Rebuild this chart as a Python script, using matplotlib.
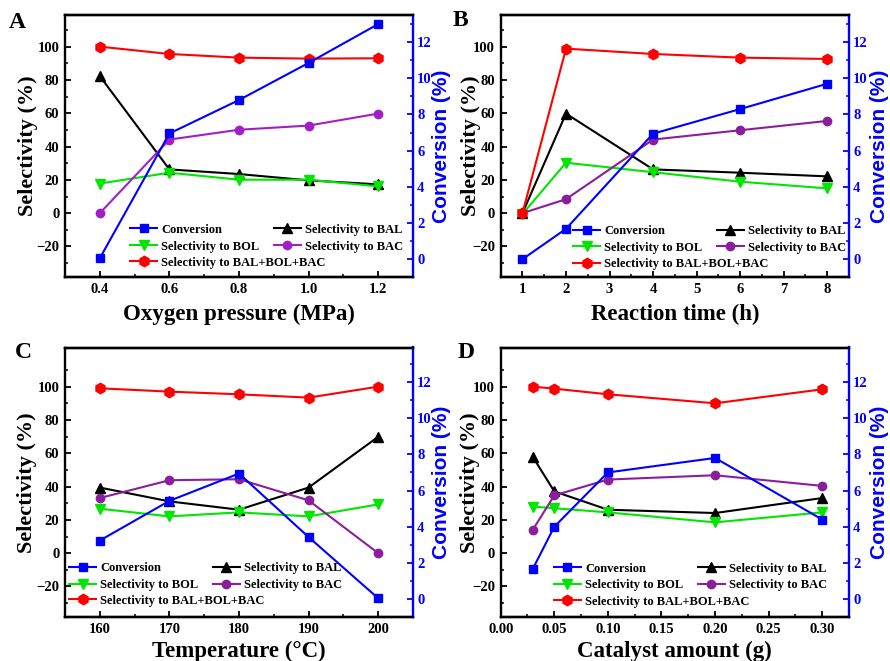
import matplotlib
matplotlib.use('Agg')
import matplotlib.pyplot as plt
from matplotlib.ticker import MultipleLocator, FixedLocator, FormatStrFormatter

# ---------------- data ----------------
# Panel A: oxygen pressure
a_x = [0.4, 0.6, 0.8, 1.0, 1.2]
a_conv = [0.05, 6.95, 8.8, 10.85, 13.0]
a_bal = [82.3, 26.3, 23.5, 19.7, 17.3]
a_bol = [17.8, 24.3, 20.1, 20.1, 16.1]
a_bac = [0.0, 44.2, 50.1, 52.6, 59.8]
a_sum = [100.0, 95.6, 93.4, 92.8, 93.0]

# Panel B: reaction time
b_x = [1, 2, 4, 6, 8]
b_conv = [0.0, 1.68, 6.94, 8.3, 9.7]
b_bal = [0.0, 59.8, 26.3, 24.3, 22.1]
b_bol = [-0.5, 30.3, 24.6, 18.9, 14.9]
b_bac = [0.0, 8.4, 44.2, 49.8, 55.4]
b_sum = [0.0, 98.8, 95.6, 93.4, 92.6]

# Panel C: temperature
c_x = [160, 170, 180, 190, 200]
c_conv = [3.24, 5.43, 6.94, 3.43, 0.05]
c_bal = [39.4, 31.1, 26.1, 39.4, 69.9]
c_bol = [26.7, 22.1, 24.5, 22.1, 29.3]
c_bac = [33.1, 43.8, 44.4, 31.7, 0.0]
c_sum = [99.0, 97.0, 95.4, 93.4, 100.0]

# Panel D: catalyst amount
d_x = [0.03, 0.05, 0.10, 0.20, 0.30]
d_conv = [1.68, 4.0, 7.0, 7.8, 4.4]
d_bal = [57.8, 37.1, 26.1, 24.1, 33.1]
d_bol = [28.0, 27.0, 24.5, 18.5, 24.5]
d_bac = [14.1, 34.7, 44.2, 46.8, 40.4]
d_sum = [100.0, 98.8, 95.4, 90.0, 98.4]

labels = ['Conversion', 'Selectivity to BAL', 'Selectivity to BOL',
          'Selectivity to BAC', 'Selectivity to BAL+BOL+BAC']
sel_ticks = [-20, 0, 20, 40, 60, 80, 100]
conv_ticks = [0, 2, 4, 6, 8, 10, 12]

# ---------------- style ----------------
SERIF = 'Liberation Serif'
SANS = 'Liberation Sans'
plt.rcParams['font.family'] = SERIF
plt.rcParams['font.weight'] = 'bold'

BLUE = '#0000FF'
GREEN = '#00E600'
RED = '#FF0000'
LW = 1.5
MS = 6

fig = plt.figure(figsize=(8.9, 6.61), dpi=100)


def px_rect(left, top, right, bottom):
    W, H = 890.0, 661.0
    return [left / W, 1 - bottom / H, (right - left) / W, (bottom - top) / H]


def panel(rect, letter, letter_xy, x, conv, bal, bol, bac, tot, xlabel,
          xlim, xmajor, xminor, xfmt, sel_ylim, conv_ylim, purple,
          leg_x, leg_y12, leg_y3, ylab_x, y2lab_x, xlab_y):
    ax = fig.add_axes(rect)
    ax2 = ax.twinx()
    l_bal, = ax.plot(x, bal, '-^', color='black', lw=LW, ms=MS + 1)
    l_bol, = ax.plot(x, bol, '-v', color=GREEN, lw=LW, ms=MS + 1)
    l_bac, = ax.plot(x, bac, '-o', color=purple, lw=LW, ms=MS)
    l_sum, = ax.plot(x, tot, '-h', color=RED, lw=LW, ms=MS + 1.5)
    l_conv, = ax2.plot(x, conv, '-s', color=BLUE, lw=LW, ms=MS)

    ax.set_xlim(*xlim)
    ax.set_ylim(*sel_ylim)
    ax2.set_ylim(*conv_ylim)
    ax.xaxis.set_major_locator(MultipleLocator(xmajor))
    ax.xaxis.set_minor_locator(MultipleLocator(xminor))
    ax.xaxis.set_major_formatter(FormatStrFormatter(xfmt))
    ax.yaxis.set_major_locator(FixedLocator(sel_ticks))
    ax.yaxis.set_minor_locator(FixedLocator(list(range(-30, 111, 10))))
    ax2.yaxis.set_major_locator(FixedLocator(conv_ticks))
    ax2.yaxis.set_minor_locator(FixedLocator(list(range(-1, 14))))

    for a in (ax, ax2):
        for s in a.spines.values():
            s.set_linewidth(1.7)
    ax2.spines['right'].set_color(BLUE)
    ax2.spines['left'].set_visible(False)
    ax.spines['right'].set_visible(False)

    ax.tick_params(axis='both', which='major', direction='in', length=4.5,
                   width=1.3, labelsize=10.5, top=False, right=False, pad=4)
    ax.tick_params(axis='both', which='minor', direction='in', length=2.5,
                   width=1.1, top=False, right=False)
    ax2.tick_params(axis='y', which='major', direction='in', length=4.5,
                    width=1.3, labelsize=10.5, colors=BLUE, pad=3)
    ax2.tick_params(axis='y', which='minor', direction='in', length=2.5,
                    width=1.1, colors=BLUE)
    for t in ax.get_xticklabels() + ax.get_yticklabels() + ax2.get_yticklabels():
        t.set_fontweight('bold')

    ax.set_xlabel(xlabel, fontsize=16.5, fontweight='bold', va='center')
    ax.xaxis.set_label_coords(0.5, xlab_y)
    ax.set_ylabel('Selectivity (%)', fontsize=16, fontweight='bold',
                  va='center', ha='center')
    ax.yaxis.set_label_coords(ylab_x, 0.5)
    ax2.set_ylabel('Conversion (%)', fontsize=15, fontweight='bold',
                   family=SANS, color=BLUE, rotation=90, va='center', ha='center')
    ax2.yaxis.set_label_coords(y2lab_x, 0.5)

    prop = {'family': SERIF, 'weight': 'bold', 'size': 9}
    leg1 = ax2.legend([l_conv, l_bol, l_bal, l_bac],
                      [labels[0], labels[2], labels[1], labels[3]],
                      ncol=2, loc='center left', bbox_to_anchor=(leg_x, leg_y12),
                      frameon=False, prop=prop, handlelength=2.15,
                      handletextpad=0.35, columnspacing=1.15, labelspacing=0.38,
                      borderaxespad=0.0, borderpad=0.0)
    ax2.add_artist(leg1)
    ax2.legend([l_sum], [labels[4]], loc='center left',
               bbox_to_anchor=(leg_x, leg_y3), frameon=False, prop=prop,
               handlelength=2.15, handletextpad=0.35, borderaxespad=0.0,
               borderpad=0.0)

    fig.text(letter_xy[0] / 890.0, 1 - letter_xy[1] / 661.0, letter,
             fontsize=17, fontweight='bold', ha='center', va='center')
    return ax, ax2


panel(px_rect(65, 15, 413, 277.3), 'A', (17, 22), a_x, a_conv, a_bal, a_bol,
      a_bac, a_sum, 'Oxygen pressure (MPa)', (0.3, 1.3), 0.2, 0.1, '%.1f',
      (-38.5, 119), (-1.0, 13.5), '#A21FC8',
      0.187, 0.149, 0.056, -0.106, 1.082, -0.143)
panel(px_rect(500.7, 15, 849, 277.3), 'B', (460, 20), b_x, b_conv, b_bal, b_bol,
      b_bac, b_sum, 'Reaction time (h)', (0.5, 8.5), 1, 0.5, '%d',
      (-38.5, 119), (-1.0, 13.5), '#8B1E9A',
      0.208, 0.145, 0.050, -0.085, 1.089, -0.143)
panel(px_rect(65, 347.5, 413, 617.3), 'C', (23, 352), c_x, c_conv, c_bal, c_bol,
      c_bac, c_sum, 'Temperature (\u00b0C)', (155, 205), 10, 5, '%d',
      (-38.5, 123.5), (-1.0, 13.9), '#8B1E9A',
      0.012, 0.150, 0.062, -0.109, 1.082, -0.128)
panel(px_rect(500.7, 347.5, 849, 617.3), 'D', (466, 353), d_x, d_conv, d_bal, d_bol,
      d_bac, d_sum, 'Catalyst amount (g)', (0.0, 0.325), 0.05, 0.025, '%.2f',
      (-38.5, 123.5), (-1.0, 13.9), '#8B1E9A',
      0.153, 0.149, 0.058, -0.088, 1.089, -0.128)

fig.savefig('out.png', dpi=100)
